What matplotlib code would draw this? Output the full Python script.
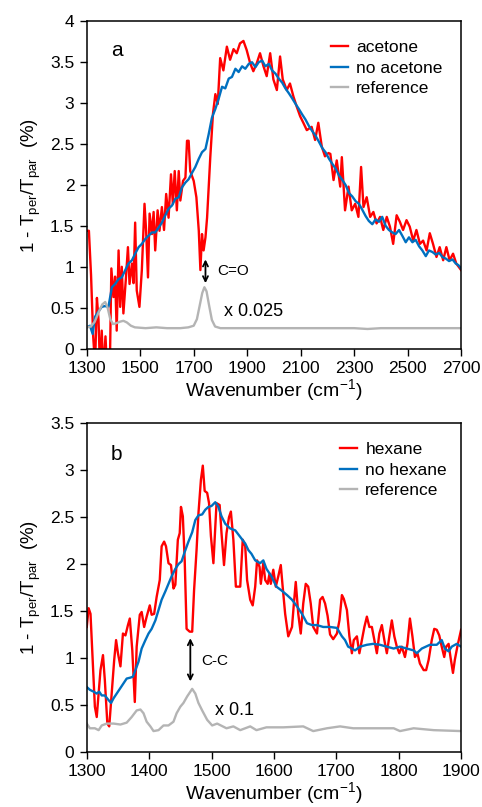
import numpy as np
import matplotlib
matplotlib.use("Agg")
import matplotlib.pyplot as plt
from matplotlib.ticker import FormatStrFormatter

plt.rcParams['font.family'] = ['Liberation Sans', 'DejaVu Sans']
plt.rcParams['mathtext.fontset'] = 'custom'
plt.rcParams['mathtext.rm'] = 'Liberation Sans'

RED = '#FF0000'
BLUE = '#0070C0'
GREY = '#B4B4B4'

# ---- panel a : acetone ----
wn_a_red = [1300, 1308, 1316, 1324, 1331, 1338, 1344, 1350, 1356, 1362, 1370, 1378, 1386,
            1392, 1400, 1406, 1412, 1419, 1425, 1431, 1437, 1446, 1454, 1460, 1469, 1475,
            1481, 1487, 1497, 1506, 1516, 1522, 1529, 1535, 1544, 1550, 1556, 1565, 1572,
            1581, 1589, 1597, 1606, 1615, 1622, 1629, 1637, 1644, 1650, 1660, 1669, 1675,
            1681, 1687, 1700, 1710, 1719, 1725, 1731, 1737, 1744, 1750, 1762, 1772, 1781,
            1790, 1799, 1811, 1824, 1836, 1849, 1861, 1873, 1886, 1898, 1911, 1923, 1936,
            1948, 1961, 1973, 1986, 1998, 2011, 2023, 2033, 2048, 2060, 2073, 2085, 2098,
            2110, 2123, 2141, 2154, 2166, 2179, 2191, 2204, 2211, 2223, 2235, 2248, 2254,
            2266, 2279, 2291, 2304, 2316, 2326, 2335, 2347, 2360, 2372, 2384, 2397, 2409,
            2422, 2434, 2446, 2459, 2471, 2483, 2496, 2508, 2521, 2533, 2546, 2558, 2571,
            2583, 2595, 2608, 2620, 2633, 2645, 2657, 2670, 2682, 2700]
acetone = [1.44, 1.44, 0.90, 0.15, -0.20, 0.62, 0.35, -0.30, 0.22, -0.30, 0.15, -0.40, -0.30,
           0.98, 0.63, 0.88, 0.22, 1.20, 0.51, 1.00, 0.43, 0.84, 1.24, 0.79, 1.04, 0.80,
           1.54, 0.71, 0.51, 0.96, 1.77, 1.44, 0.87, 1.65, 1.40, 1.67, 1.20, 1.69, 1.44,
           1.73, 1.45, 1.89, 1.60, 2.13, 1.77, 2.17, 1.69, 2.17, 1.81, 2.05, 2.09, 2.54,
           2.54, 2.17, 2.05, 1.85, 1.44, 0.96, 1.40, 1.20, 1.36, 1.60, 2.34, 2.87, 3.11,
           2.99, 3.55, 3.40, 3.69, 3.53, 3.66, 3.61, 3.73, 3.76, 3.65, 3.49, 3.39, 3.49,
           3.61, 3.45, 3.33, 3.61, 3.29, 3.16, 3.57, 3.29, 3.16, 3.24, 3.08, 2.96, 2.84,
           2.76, 2.67, 2.71, 2.55, 2.76, 2.47, 2.35, 2.39, 2.38, 2.06, 2.30, 1.98, 2.34,
           1.69, 1.98, 1.69, 1.77, 1.61, 2.22, 1.73, 1.85, 1.61, 1.67, 1.53, 1.61, 1.45,
           1.61, 1.49, 1.28, 1.63, 1.55, 1.45, 1.57, 1.49, 1.32, 1.45, 1.28, 1.32, 1.20,
           1.41, 1.28, 1.12, 1.24, 1.08, 1.24, 1.08, 1.16, 1.04, 0.96]

wn_a_blue = [1300, 1312, 1322, 1331, 1343, 1356, 1368, 1381, 1394, 1406, 1419, 1431, 1444,
             1456, 1469, 1481, 1494, 1506, 1519, 1531, 1544, 1556, 1569, 1581, 1594, 1606,
             1619, 1631, 1644, 1656, 1669, 1681, 1694, 1706, 1719, 1731, 1744, 1756, 1768,
             1781, 1793, 1806, 1818, 1831, 1843, 1856, 1868, 1881, 1893, 1906, 1918, 1931,
             1943, 1956, 1968, 1981, 1993, 2006, 2018, 2031, 2043, 2056, 2068, 2081, 2093,
             2106, 2118, 2131, 2143, 2156, 2168, 2181, 2193, 2206, 2218, 2231, 2243, 2256,
             2268, 2281, 2293, 2306, 2318, 2330, 2343, 2355, 2368, 2380, 2393, 2405, 2418,
             2430, 2443, 2455, 2468, 2480, 2493, 2505, 2518, 2530, 2543, 2555, 2568, 2580,
             2593, 2605, 2618, 2630, 2643, 2655, 2668, 2680, 2690, 2700]
no_acetone = [0.26, 0.28, 0.18, 0.39, 0.45, 0.51, 0.52, 0.51, 0.75, 0.79, 0.85, 0.87, 0.96,
              1.04, 1.08, 1.16, 1.24, 1.28, 1.34, 1.38, 1.42, 1.42, 1.48, 1.54, 1.63, 1.71,
              1.75, 1.83, 1.85, 1.97, 2.03, 2.07, 2.15, 2.22, 2.32, 2.40, 2.44, 2.62, 2.82,
              2.93, 3.05, 3.20, 3.18, 3.30, 3.32, 3.42, 3.38, 3.45, 3.42, 3.48, 3.50, 3.44,
              3.50, 3.52, 3.45, 3.48, 3.40, 3.36, 3.30, 3.25, 3.18, 3.12, 3.06, 2.99, 2.93,
              2.86, 2.80, 2.72, 2.66, 2.60, 2.53, 2.45, 2.40, 2.32, 2.26, 2.20, 2.12, 2.06,
              2.00, 1.90, 1.86, 1.80, 1.77, 1.70, 1.62, 1.56, 1.52, 1.58, 1.55, 1.61, 1.50,
              1.45, 1.42, 1.40, 1.45, 1.38, 1.30, 1.36, 1.30, 1.33, 1.25, 1.20, 1.13, 1.20,
              1.18, 1.15, 1.17, 1.12, 1.10, 1.07, 1.09, 1.04, 1.02, 0.98]

wn_a_ref = [1300, 1315, 1330, 1345, 1358, 1369, 1378, 1388, 1398, 1410, 1425, 1437, 1450,
            1465, 1480, 1520, 1560, 1600, 1650, 1680, 1700, 1712, 1722, 1732, 1740, 1748,
            1758, 1768, 1780, 1800, 1900, 2000, 2100, 2200, 2300, 2350, 2400, 2500, 2600, 2700]
ref_a = [0.26, 0.27, 0.33, 0.45, 0.54, 0.57, 0.50, 0.36, 0.30, 0.31, 0.33, 0.34, 0.32,
         0.28, 0.26, 0.25, 0.26, 0.25, 0.25, 0.26, 0.28, 0.36, 0.52, 0.68, 0.75, 0.70,
         0.52, 0.35, 0.27, 0.25, 0.25, 0.25, 0.25, 0.25, 0.25, 0.24, 0.25, 0.25, 0.25, 0.25]

# ---- panel b : hexane ----
wn_b_red = [1300, 1303, 1306, 1310, 1313, 1316, 1319, 1322, 1326, 1329, 1333, 1336, 1340,
            1344, 1347, 1350, 1354, 1358, 1362, 1366, 1369, 1373, 1377, 1380, 1385, 1388,
            1392, 1396, 1401, 1404, 1408, 1412, 1417, 1420, 1424, 1427, 1431, 1435, 1439,
            1442, 1446, 1449, 1451, 1454, 1457, 1460, 1465, 1469, 1472, 1476, 1479, 1483,
            1486, 1489, 1493, 1496, 1499, 1503, 1508, 1513, 1516, 1520, 1524, 1528, 1531,
            1535, 1539, 1546, 1550, 1554, 1557, 1562, 1566, 1570, 1573, 1577, 1579, 1583,
            1586, 1590, 1593, 1595, 1599, 1603, 1607, 1611, 1614, 1618, 1623, 1629, 1632,
            1635, 1639, 1643, 1647, 1651, 1655, 1659, 1663, 1669, 1674, 1678, 1682, 1686,
            1690, 1695, 1701, 1705, 1709, 1712, 1717, 1721, 1725, 1728, 1733, 1737, 1741,
            1745, 1749, 1753, 1757, 1761, 1765, 1769, 1773, 1777, 1781, 1785, 1789, 1793,
            1797, 1801, 1805, 1810, 1814, 1818, 1822, 1826, 1830, 1834, 1840, 1844, 1848,
            1853, 1857, 1861, 1865, 1869, 1873, 1876, 1880, 1883, 1887, 1890, 1894, 1900]
hexane = [1.33, 1.53, 1.47, 0.91, 0.48, 0.37, 0.62, 0.87, 1.03, 0.76, 0.30, 0.27, 0.62,
          0.98, 1.19, 1.05, 0.91, 1.26, 1.24, 1.35, 1.42, 1.08, 0.53, 1.12, 1.46, 1.49,
          1.33, 1.44, 1.56, 1.46, 1.47, 1.65, 1.83, 2.19, 2.24, 2.19, 2.01, 1.99, 1.74,
          1.78, 2.26, 2.33, 2.61, 2.51, 2.04, 1.31, 1.28, 1.28, 1.72, 2.15, 2.54, 2.90,
          3.05, 2.78, 2.76, 2.65, 2.30, 2.01, 2.65, 2.63, 2.33, 1.99, 2.33, 2.50, 2.56,
          2.26, 1.76, 1.76, 2.26, 2.19, 1.83, 1.62, 1.56, 1.76, 2.04, 1.97, 1.79, 2.01,
          1.83, 1.79, 1.90, 1.79, 1.94, 1.76, 1.87, 1.99, 1.76, 1.47, 1.23, 1.33, 1.58,
          1.81, 1.47, 1.26, 1.58, 1.79, 1.76, 1.58, 1.33, 1.26, 1.62, 1.65, 1.58, 1.45,
          1.25, 1.20, 1.26, 1.40, 1.67, 1.63, 1.51, 1.23, 1.05, 1.19, 1.23, 1.05, 1.19,
          1.33, 1.44, 1.33, 1.33, 1.19, 1.05, 1.26, 1.35, 1.19, 1.05, 1.23, 1.40, 1.23,
          1.12, 1.05, 1.12, 1.01, 1.15, 1.42, 1.23, 1.01, 1.05, 0.94, 0.87, 0.87, 0.98,
          1.19, 1.31, 1.30, 1.24, 1.12, 1.01, 1.12, 1.15, 1.01, 0.84, 0.98, 1.12, 1.30]

wn_b_blue = [1300, 1305, 1311, 1316, 1320, 1324, 1329, 1335, 1339, 1343, 1348, 1354, 1359,
             1364, 1370, 1374, 1378, 1383, 1388, 1394, 1399, 1404, 1410, 1415, 1420, 1426,
             1431, 1436, 1442, 1447, 1452, 1457, 1463, 1469, 1474, 1479, 1485, 1490, 1495,
             1500, 1506, 1511, 1516, 1522, 1530, 1538, 1546, 1554, 1559, 1564, 1570, 1578,
             1583, 1588, 1596, 1604, 1612, 1621, 1629, 1637, 1645, 1653, 1661, 1669, 1679,
             1690, 1701, 1709, 1714, 1719, 1725, 1730, 1738, 1749, 1759, 1770, 1781, 1792,
             1802, 1813, 1824, 1829, 1837, 1850, 1861, 1869, 1874, 1880, 1885, 1893, 1900]
no_hexane = [0.69, 0.66, 0.64, 0.62, 0.64, 0.60, 0.60, 0.55, 0.52, 0.57, 0.62, 0.68, 0.73,
             0.78, 0.79, 0.80, 0.87, 0.96, 1.10, 1.19, 1.26, 1.31, 1.40, 1.51, 1.62, 1.71,
             1.79, 1.87, 1.95, 2.00, 2.03, 2.13, 2.24, 2.34, 2.47, 2.52, 2.53, 2.58, 2.61,
             2.62, 2.66, 2.61, 2.51, 2.43, 2.38, 2.36, 2.29, 2.22, 2.15, 2.11, 2.04, 2.01,
             2.04, 1.95, 1.87, 1.76, 1.72, 1.67, 1.62, 1.55, 1.47, 1.37, 1.35, 1.35, 1.33,
             1.33, 1.32, 1.23, 1.19, 1.12, 1.10, 1.08, 1.12, 1.14, 1.15, 1.14, 1.12, 1.10,
             1.12, 1.10, 1.08, 1.05, 1.10, 1.14, 1.14, 1.19, 1.10, 1.07, 1.12, 1.15, 1.12]

wn_b_ref = [1300, 1305, 1313, 1319, 1324, 1332, 1343, 1354, 1364, 1372, 1380, 1386, 1391,
            1396, 1402, 1407, 1415, 1423, 1431, 1439, 1444, 1450, 1455, 1461, 1469, 1474,
            1479, 1485, 1493, 1501, 1509, 1524, 1535, 1546, 1562, 1572, 1588, 1615, 1647,
            1663, 1685, 1706, 1727, 1749, 1770, 1792, 1802, 1824, 1856, 1900]
ref_b = [0.30, 0.25, 0.25, 0.23, 0.28, 0.30, 0.30, 0.29, 0.31, 0.37, 0.44, 0.45, 0.41,
         0.32, 0.27, 0.22, 0.23, 0.28, 0.28, 0.32, 0.41, 0.48, 0.52, 0.59, 0.67, 0.62,
         0.52, 0.44, 0.34, 0.28, 0.30, 0.25, 0.27, 0.23, 0.27, 0.23, 0.26, 0.26, 0.27,
         0.22, 0.25, 0.27, 0.25, 0.25, 0.25, 0.25, 0.22, 0.25, 0.23, 0.22]

ylab = r'1 - T$_{\mathregular{per}}$/T$_{\mathregular{par}}$  (%)'
xlab = r'Wavenumber (cm$^{\mathregular{-1}}$)'

fig = plt.figure(figsize=(4.82, 8.07), dpi=100)
ax1 = fig.add_axes([0.18, 0.568, 0.7766, 0.4056])
ax2 = fig.add_axes([0.18, 0.0685, 0.7766, 0.4068])


def style(ax, xlim, ylim, xticks, yticks):
    ax.set_xlim(*xlim)
    ax.set_ylim(*ylim)
    ax.set_xticks(xticks)
    ax.set_yticks(yticks)
    ax.yaxis.set_major_formatter(FormatStrFormatter('%g'))
    ax.tick_params(direction='out', length=5, width=1, labelsize=12.5, pad=4,
                   top=False, right=False)
    for s in ax.spines.values():
        s.set_linewidth(1.1)
    ax.set_xlabel(xlab, fontsize=14, labelpad=1)
    ax.set_ylabel(ylab, fontsize=13.5, labelpad=5)


lw = 1.7
ax1.plot(wn_a_red, acetone, color=RED, lw=lw, label='acetone', solid_joinstyle='round')
ax1.plot(wn_a_blue, no_acetone, color=BLUE, lw=lw, label='no acetone', solid_joinstyle='round')
ax1.plot(wn_a_ref, ref_a, color=GREY, lw=lw, label='reference', solid_joinstyle='round')
style(ax1, (1300, 2700), (0, 4), np.arange(1300, 2701, 200), np.arange(0, 4.01, 0.5))
ax1.annotate('', xy=(1744, 0.80), xytext=(1744, 1.09),
             arrowprops=dict(arrowstyle='<->', color='black', lw=1.3,
                             shrinkA=0, shrinkB=0, mutation_scale=9))
ax1.text(1788, 0.95, 'C=O', fontsize=11, va='center')
ax1.text(1815, 0.45, 'x 0.025', fontsize=13, va='center')
ax1.text(0.065, 0.91, 'a', transform=ax1.transAxes, fontsize=15, va='center')
ax1.legend(loc='upper left', bbox_to_anchor=(0.61, 0.99), frameon=False, fontsize=12.5,
           handlelength=1.0, handletextpad=0.45, labelspacing=0.3)

ax2.plot(wn_b_red, hexane, color=RED, lw=lw, label='hexane', solid_joinstyle='round')
ax2.plot(wn_b_blue, no_hexane, color=BLUE, lw=lw, label='no hexane', solid_joinstyle='round')
ax2.plot(wn_b_ref, ref_b, color=GREY, lw=lw, label='reference', solid_joinstyle='round')
style(ax2, (1300, 1900), (0, 3.5), np.arange(1300, 1901, 100), np.arange(0, 3.51, 0.5))
ax2.annotate('', xy=(1466, 0.75), xytext=(1466, 1.21),
             arrowprops=dict(arrowstyle='<->', color='black', lw=1.3,
                             shrinkA=0, shrinkB=0, mutation_scale=9))
ax2.text(1483, 0.97, 'C-C', fontsize=11, va='center')
ax2.text(1506, 0.44, 'x 0.1', fontsize=13, va='center')
ax2.text(0.065, 0.905, 'b', transform=ax2.transAxes, fontsize=15, va='center')
ax2.legend(loc='upper left', bbox_to_anchor=(0.635, 0.99), frameon=False, fontsize=12.5,
           handlelength=1.0, handletextpad=0.45, labelspacing=0.3)

fig.savefig('out.png', dpi=100)
